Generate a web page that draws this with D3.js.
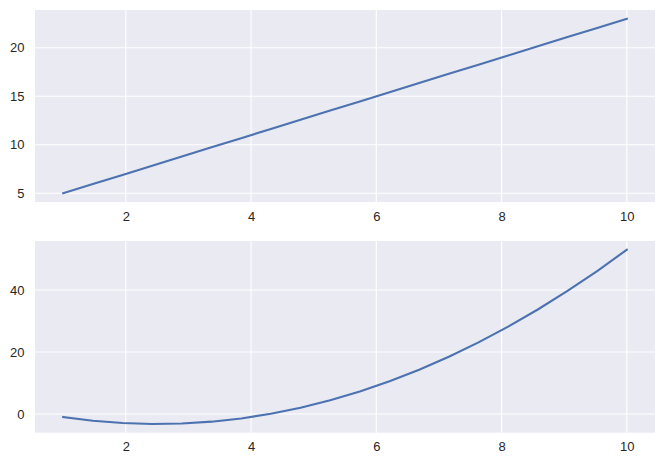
<!DOCTYPE html>
<html><head><meta charset="utf-8">
<script src="https://cdn.jsdelivr.net/npm/d3@7"></script>
<style>body{margin:0;background:#fff}svg{display:block}</style>
</head><body>
<svg id="c" width="665" height="467"></svg>
<script>
const xs = [1, 1.4737, 1.9474, 2.4211, 2.8947, 3.3684, 3.8421, 4.3158, 4.7895, 5.2632, 5.7368, 6.2105, 6.6842, 7.1579, 7.6316, 8.1053, 8.5789, 9.0526, 9.5263, 10];
const linearValues = [5, 5.947, 6.895, 7.842, 8.789, 9.737, 10.684, 11.632, 12.579, 13.526, 14.474, 15.421, 16.368, 17.316, 18.263, 19.211, 20.158, 21.105, 22.053, 23];
const quadValues = [-1, -2.197, -2.945, -3.244, -3.094, -2.496, -1.449, 0.047, 1.992, 4.385, 7.227, 10.518, 14.258, 18.446, 23.083, 28.169, 33.704, 39.687, 46.119, 53];
const xTicks = [2, 4, 6, 8, 10];
const topYTicks = [5, 10, 15, 20];
const bottomYTicks = [0, 20, 40];

const svg = d3.select('#c');
const left = 35, right = 655;
const panels = [
  {top: 10, bottom: 202, ys: linearValues, ticks: topYTicks},
  {top: 241, bottom: 432.7, ys: quadValues, ticks: bottomYTicks}
];
const font = '"Liberation Sans", Arial, sans-serif';

function padded(ext) { const m = (ext[1]-ext[0])*0.05; return [ext[0]-m, ext[1]+m]; }

panels.forEach(p => {
  const x = d3.scaleLinear().domain(padded(d3.extent(xs))).range([left, right]);
  const y = d3.scaleLinear().domain(padded(d3.extent(p.ys))).range([p.bottom, p.top]);
  const g = svg.append('g');
  g.append('rect').attr('x', left).attr('y', p.top).attr('width', right-left).attr('height', p.bottom-p.top).attr('fill', '#eaeaf2');
  g.selectAll('.vg').data(xTicks).join('line')
    .attr('x1', d => x(d)).attr('x2', d => x(d)).attr('y1', p.top).attr('y2', p.bottom)
    .attr('stroke', '#fff').attr('stroke-width', 1.1);
  g.selectAll('.hg').data(p.ticks).join('line')
    .attr('y1', d => y(d)).attr('y2', d => y(d)).attr('x1', left).attr('x2', right)
    .attr('stroke', '#fff').attr('stroke-width', 1.1);
  const xa = g.append('g').attr('transform', `translate(0,${p.bottom})`)
    .call(d3.axisBottom(x).tickValues(xTicks).tickSize(0).tickPadding(9.5).tickFormat(d3.format('d')));
  xa.select('.domain').remove();
  xa.selectAll('text').attr('font-family', font).attr('font-size', '13px').attr('fill', '#262626');
  const ya = g.append('g').attr('transform', `translate(${left},0)`)
    .call(d3.axisLeft(y).tickValues(p.ticks).tickSize(0).tickPadding(10.5).tickFormat(d3.format('d')));
  ya.select('.domain').remove();
  ya.selectAll('text').attr('font-family', font).attr('font-size', '13px').attr('fill', '#262626');
  const line = d3.line().x((d, i) => x(xs[i])).y(d => y(d));
  g.append('path').datum(p.ys).attr('d', line).attr('fill', 'none')
    .attr('stroke', '#4c72b0').attr('stroke-width', 2.1).attr('stroke-linecap', 'square');
});
</script>
</body></html>
